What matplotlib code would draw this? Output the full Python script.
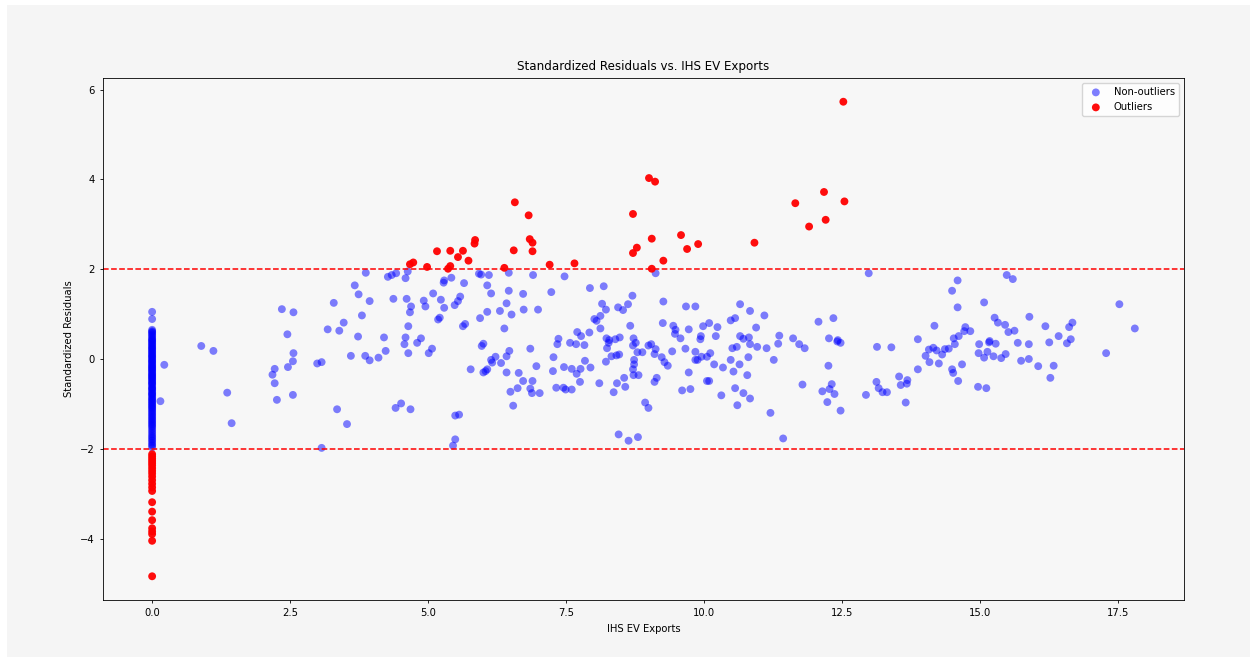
import numpy as np
import matplotlib.pyplot as plt
from matplotlib.patches import Rectangle

# ============================================================
# DATA
# ============================================================
# points sitting at IHS EV Exports = 0
zero_nonout_y = [1.05, 0.89, 0.65, 0.62, 0.58, 0.55, 0.50, 0.46, 0.42, 0.38,
                 0.35, 0.31, 0.28, 0.24, 0.20, 0.17, 0.13, 0.10, 0.06, 0.02,
                 -0.01, -0.05, -0.09, -0.12, -0.16, -0.20, -0.24, -0.28, -0.31, -0.35,
                 -0.39, -0.43, -0.47, -0.50, -0.54, -0.58, -0.62, -0.66, -0.70, -0.74,
                 -0.78, -0.82, -0.86, -0.90, -0.95, -1.00, -1.05, -1.10, -1.16, -1.22,
                 -1.28, -1.34, -1.40, -1.46, -1.52, -1.60, -1.68, -1.75, -1.82, -1.90,
                 -1.97,
                 0.60, 0.52, 0.44, 0.40, 0.33, 0.26, 0.22, 0.15, 0.08, 0.04,
                 -0.03, -0.07, -0.14, -0.18, -0.22, -0.26, -0.33, -0.37, -0.41, -0.45,
                 -0.52, -0.56, -0.64, -0.68, -0.76, -0.80, -0.88, -0.93, -0.98, -1.03,
                 -1.08, -1.13, -1.19, -1.25, -1.31, -1.37, -1.43, -1.49, -1.56, -1.64,
                 -1.72, -1.79, -1.86, -1.93]
zero_out_y = [-2.12, -2.17, -2.22, -2.27, -2.32, -2.37, -2.43, -2.49, -2.55, -2.62,
              -2.70, -2.78, -2.86, -2.94, -3.19, -3.40, -3.59, -3.77, -3.84, -3.90,
              -4.05, -4.84]

nonout_x = [0.22, 0.15, 3.87, 3.67, 3.74, 3.94, 3.29, 2.35, 2.56, 3.80, 3.47, 3.18, 3.39, 2.45, 3.73,
            0.89, 1.11, 2.56, 2.55, 2.46, 2.22, 2.18, 2.22, 2.26, 2.55, 1.36, 1.44, 2.99, 3.07, 3.60,
            3.86, 3.94, 4.10, 3.35, 3.53, 3.07,
            4.27, 4.34, 4.42, 4.59, 4.63, 4.37, 4.61, 4.69, 4.67, 4.64, 4.59, 4.20, 4.87, 4.92, 4.95,
            5.09, 5.23, 5.29, 5.29, 5.28, 5.42, 5.65, 5.58, 5.54, 5.48, 5.18, 5.21, 5.63, 5.67, 5.92,
            5.96, 6.10, 6.07, 6.14, 6.46, 6.46, 6.72, 6.90, 6.42, 6.30, 6.51, 6.07, 5.94, 6.38, 6.73,
            6.99, 7.23, 7.47, 7.93, 8.18, 8.15, 8.22, 8.70, 8.62, 8.44, 8.53, 8.01, 8.05, 8.12, 8.12,
            8.66, 7.36, 7.70, 7.77, 7.92, 8.23, 8.28, 8.39, 8.47, 8.72,
            4.57, 4.80, 4.64, 4.23, 5.07, 5.01, 4.41, 4.51, 4.68, 5.49, 5.56, 5.49, 5.45, 5.77, 5.97,
            6.00, 6.00, 6.07, 6.04, 6.14, 6.22, 6.16, 6.32, 6.42, 6.47, 6.42, 6.64, 6.72, 6.62, 6.49,
            6.54, 6.85, 6.96, 6.89, 6.85, 6.88, 7.02, 7.27, 7.26, 7.34, 7.57, 7.68, 7.83, 7.46, 7.60,
            7.76, 7.69, 7.84, 7.94, 7.32, 7.45, 7.49, 7.60, 7.75, 8.10, 8.27, 8.24, 8.22, 8.32, 8.41,
            8.46, 8.76, 8.71, 8.79, 8.88, 8.99, 8.73, 8.73, 8.71, 8.72, 8.81, 8.55, 8.42, 8.57, 8.36,
            8.93, 8.99, 8.45, 8.63, 8.80,
            9.12, 12.98, 9.26, 9.67, 9.84, 10.65, 10.83, 11.09, 9.25, 9.44, 9.48, 9.47, 9.72, 9.98,
            10.09, 10.24, 10.48, 10.56, 10.94, 12.07, 12.34, 9.57, 9.94, 10.21, 10.65, 10.81, 11.36,
            11.61, 12.26, 12.42, 13.87,
            9.04, 9.12, 9.10, 9.23, 9.28, 9.34, 9.42, 9.66, 9.84, 9.95, 10.05, 10.11, 9.84, 9.88, 9.93,
            10.18, 10.34, 10.51, 10.59, 10.48, 10.64, 10.53, 10.71, 10.83, 10.96, 11.13, 10.80, 10.78,
            11.34, 11.26, 11.72, 11.82, 12.41, 12.47, 12.25, 9.14, 9.10, 9.72, 9.60, 9.75, 10.05, 10.09,
            10.31, 10.56, 10.71, 10.83, 10.60, 11.20, 11.43, 11.78, 12.31, 12.27, 12.36, 12.14, 12.23,
            12.47, 13.13, 13.39, 13.87, 13.53, 13.68, 13.56, 13.67, 13.12, 13.16, 13.23, 13.31, 12.93,
            13.65,
            15.48, 15.59, 14.59, 14.49, 14.59, 15.07, 17.52, 14.17, 15.26, 15.32, 15.45, 15.51, 15.62,
            14.73, 14.71, 14.82, 15.89, 16.18, 16.61, 16.67, 17.80, 14.52, 14.61, 15.17, 16.42, 16.64,
            14.54, 14.01, 14.07, 14.15, 14.21, 14.08, 14.25, 14.31, 14.36, 14.43, 14.49, 14.51, 14.67,
            14.60, 14.96, 15.11, 14.98, 15.16, 15.28, 14.97, 15.13, 15.07, 15.24, 15.38, 15.46, 15.68,
            15.88, 15.74, 15.88, 16.05, 16.25, 16.33, 16.27, 16.57, 17.28]
nonout_y = [-0.13, -0.94, 1.92, 1.64, 1.44, 1.29, 1.25, 1.11, 1.04, 0.97, 0.81, 0.66, 0.63, 0.55, 0.50,
            0.29, 0.18, 0.13, -0.05, -0.18, -0.22, -0.35, -0.54, -0.91, -0.80, -0.75, -1.43, -0.10, -0.07, 0.07,
            0.07, -0.03, 0.03, -1.12, -1.45, -1.98,
            1.83, 1.87, 1.91, 1.80, 1.95, 1.34, 1.34, 1.17, 1.04, 0.73, 0.48, 0.48, 0.46, 1.30, 1.17,
            1.46, 1.32, 1.14, 1.75, 1.70, 1.81, 1.69, 1.39, 1.29, 1.20, 0.88, 0.92, 0.73, 0.78, 1.90,
            1.88, 1.87, 1.64, 1.46, 1.92, 1.52, 1.45, 1.87, 1.24, 1.07, 0.99, 1.05, 0.91, 0.68, 1.10,
            1.10, 1.49, 1.84, 1.58, 1.62, 1.23, 1.10, 1.41, 1.22, 1.15, 1.09, 0.89, 0.85, 0.96, 0.68,
            0.74, 0.45, 0.60, 0.51, 0.59, 0.46, 0.42, 0.44, 0.48, 0.46,
            0.33, 0.36, 0.13, 0.18, 0.23, 0.13, -1.09, -0.99, -1.12, -1.26, -1.24, -1.79, -1.93, -0.23, 0.29,
            0.34, -0.30, -0.23, -0.27, -0.02, 0.05, -0.08, -0.09, 0.06, 0.18, -0.30, -0.31, -0.49, -0.65, -0.73,
            -1.04, 0.23, -0.16, -0.49, -0.66, -0.76, -0.76, 0.04, -0.27, 0.33, 0.36, 0.33, 0.31, -0.18, -0.22,
            -0.22, -0.33, -0.04, -0.19, -0.64, -0.64, -0.68, -0.68, -0.51, -0.54, 0.36, 0.24, -0.06, 0.06, 0.08,
            0.10, 0.36, 0.30, 0.15, 0.15, 0.30, -0.02, -0.12, -0.23, -0.36, -0.36, -0.42, -0.54, -0.62, -0.74,
            -0.97, -1.09, -1.68, -1.82, -1.74,
            1.91, 1.91, 1.28, 1.17, 1.17, 1.22, 1.07, 0.97, 0.80, 0.74, 0.65, 0.56, 0.66, 0.73,
            0.80, 0.71, 0.86, 0.91, 0.70, 0.83, 0.91, 0.46, 0.51, 0.51, 0.51, 0.48, 0.52,
            0.46, 0.46, 0.42, 0.44,
            0.33, 0.22, 0.11, 0.04, -0.07, -0.15, 0.17, 0.23, 0.16, 0.05, 0.05, 0.13, -0.02, -0.02, 0.44,
            -0.12, -0.19, 0.24, 0.27, -0.02, -0.12, -0.28, 0.45, 0.33, 0.27, 0.24, 0.04, -0.36,
            0.34, -0.02, 0.33, 0.24, 0.39, 0.36, -0.15, -0.42, -0.51, -0.30, -0.70, -0.67, -0.49, -0.49,
            -0.81, -0.65, -0.76, -0.88, -1.03, -1.20, -1.77, -0.57, -0.56, -0.67, -0.78, -0.72, -0.96,
            -1.15, 0.27, 0.26, -0.23, -0.39, -0.47, -0.58, -0.55, -0.51, -0.65, -0.74, -0.74, -0.80,
            -0.97,
            1.87, 1.78, 1.75, 1.52, 1.15, 1.26, 1.22, 0.74, 0.92, 0.81, 0.76, 0.60, 0.63,
            0.71, 0.62, 0.62, 0.94, 0.73, 0.71, 0.81, 0.68, 0.46, 0.51, 0.40, 0.51, 0.44,
            0.33, 0.07, 0.21, 0.25, 0.19, -0.07, -0.10, 0.10, 0.22, 0.23, -0.23, -0.31, -0.12,
            -0.49, -0.62, -0.65, 0.33, 0.37, 0.34, 0.13, 0.16, 0.03, 0.06, 0.02, 0.11, 0.36,
            0.33, -0.04, 0.00, -0.16, 0.37, -0.15, -0.42, 0.35, 0.13]

out_x = [4.67, 4.73, 4.98, 5.16, 5.40, 5.36, 5.40, 5.54, 5.63, 5.73, 5.85, 5.84, 6.38, 6.55,
         6.57, 6.82, 6.84, 6.89, 6.89, 7.20, 7.65, 8.71, 8.71, 8.78, 9.00, 9.11, 9.05, 9.05,
         9.26, 9.58, 9.69, 9.89, 10.91, 11.65, 11.90, 12.17, 12.20, 12.52, 12.54]
out_y = [2.11, 2.15, 2.05, 2.40, 2.41, 2.01, 2.07, 2.27, 2.41, 2.19, 2.65, 2.57, 2.03, 2.42,
         3.49, 3.20, 2.67, 2.59, 2.40, 2.10, 2.13, 3.23, 2.36, 2.48, 4.03, 3.95, 2.68, 2.01,
         2.19, 2.76, 2.45, 2.56, 2.59, 3.47, 2.95, 3.72, 3.10, 5.73, 3.51]

threshold = 2

# ============================================================
# STYLE
# ============================================================
plt.rcParams['font.size'] = 7.2
plt.rcParams['axes.linewidth'] = 0.6
plt.rcParams['xtick.major.size'] = 2.5
plt.rcParams['ytick.major.size'] = 2.5
plt.rcParams['xtick.major.width'] = 0.6
plt.rcParams['ytick.major.width'] = 0.6

fig = plt.figure(figsize=(12.53, 6.6), dpi=100, facecolor='white')
# grey panel behind the chart
panel = Rectangle((7 / 1253, 3 / 660), 1243 / 1253, 652 / 660,
                  transform=fig.transFigure, facecolor='#f5f5f5',
                  edgecolor='none', zorder=-10)
fig.add_artist(panel)

ax = fig.add_axes([0.0822, 0.0909, 0.8627, 0.7909])
ax.set_facecolor('#f7f7f7')

all_nonout_x = np.concatenate([np.zeros(len(zero_nonout_y)), nonout_x])
all_nonout_y = np.concatenate([zero_nonout_y, nonout_y])
all_out_x = np.concatenate([np.zeros(len(zero_out_y)), out_x])
all_out_y = np.concatenate([zero_out_y, out_y])

ax.scatter(all_nonout_x, all_nonout_y, s=32, color='blue', alpha=0.5,
           edgecolors='none', label='Non-outliers')
ax.scatter(all_out_x, all_out_y, s=32, color='red', alpha=0.95,
           edgecolors='none', label='Outliers')
ax.axhline(threshold, color='red', linestyle='--', linewidth=1.1)
ax.axhline(-threshold, color='red', linestyle='--', linewidth=1.1)

ax.set_title('Standardized Residuals vs. IHS EV Exports', fontsize=8.6)
ax.set_xlabel('IHS EV Exports')
ax.set_ylabel('Standardized Residuals')
ax.legend(loc='upper right')

fig.savefig('out.png', dpi=100, facecolor=fig.get_facecolor())
